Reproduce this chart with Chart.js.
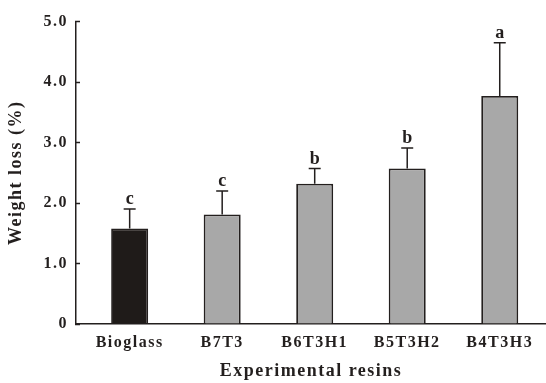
<!DOCTYPE html>
<html>
<head>
<meta charset="utf-8">
<script src="https://cdn.jsdelivr.net/npm/chart.js@4"></script>
<style>
  html, body { margin: 0; padding: 0; background: #fff; }
  canvas { display: block; }
</style>
</head>
<body>
<canvas id="lossChart" width="546" height="383"></canvas>
<script>
const resins = ['Bioglass', 'B7T3', 'B6T3H1', 'B5T3H2', 'B4T3H3'];
const weightLoss = [1.58, 1.81, 2.32, 2.57, 3.77];
const errorUp = [0.32, 0.39, 0.25, 0.34, 0.88];
const groupLetters = ['c', 'c', 'b', 'b', 'a'];
const yTickValues = [0, 1, 2, 3, 4, 5];
const yTickLabels = ['0', '1.0', '2.0', '3.0', '4.0', '5.0'];

const ink = '#231f1e';
const serif = "'Liberation Serif', 'Times New Roman', serif";

// the original figure uses widely spaced bold Times text
const spacedText = {
  id: 'spacedText',
  beforeUpdate(chart) { chart.ctx.letterSpacing = '1.5px'; },
  beforeDraw(chart) { chart.ctx.letterSpacing = '1.5px'; },
};

const errorBars = {
  id: 'errorBars',
  afterDatasetsDraw(chart) {
    const { ctx, scales: { x, y } } = chart;
    ctx.save();
    ctx.letterSpacing = '0px';
    ctx.strokeStyle = ink;
    ctx.fillStyle = ink;
    ctx.lineWidth = 1.5;
    ctx.font = `bold 18px ${serif}`;
    ctx.textAlign = 'center';
    ctx.textBaseline = 'alphabetic';
    weightLoss.forEach((v, i) => {
      const cx = x.getPixelForValue(i);
      const top = y.getPixelForValue(v);
      const end = y.getPixelForValue(v + errorUp[i]);
      ctx.beginPath();
      ctx.moveTo(cx, top);
      ctx.lineTo(cx, end);
      ctx.moveTo(cx - 6, end);
      ctx.lineTo(cx + 6, end);
      ctx.stroke();
      ctx.fillText(groupLetters[i], cx, end - 5);
    });
    ctx.restore();
  },
};

new Chart(document.getElementById('lossChart').getContext('2d'), {
  type: 'bar',
  data: {
    datasets: [{
      data: resins.map((_, i) => ({ x: i, y: weightLoss[i] })),
      backgroundColor: resins.map((_, i) => (i === 0 ? '#1f1b19' : '#a8a8a8')),
      borderColor: ink,
      borderWidth: 1.8,
      barPercentage: 0.4,
      categoryPercentage: 1,
    }],
  },
  options: {
    responsive: false,
    animation: false,
    layout: { padding: { top: 18, right: 0, bottom: 0, left: 0 } },
    plugins: {
      legend: { display: false },
      tooltip: { enabled: false },
    },
    scales: {
      x: {
        type: 'linear',
        offset: false,
        min: -0.58,
        max: 4.5,
        grid: { display: false },
        border: { display: true, color: ink, width: 1.5 },
        afterBuildTicks: (scale) => { scale.ticks = resins.map((_, i) => ({ value: i })); },
        ticks: {
          callback: (v) => resins[v],
          color: ink,
          font: { family: serif, size: 16, weight: 'bold' },
          padding: 1,
          maxRotation: 0,
          autoSkip: false,
        },
        title: {
          display: true,
          text: 'Experimental resins',
          color: ink,
          font: { family: serif, size: 18, weight: 'bold' },
          padding: { top: 0, bottom: 1 },
        },
        afterFit: (scale) => { scale.height = 59; },
      },
      y: {
        min: 0,
        max: 5,
        afterBuildTicks: (scale) => { scale.ticks = yTickValues.map((v) => ({ value: v })); },
        ticks: {
          callback: (v, i) => yTickLabels[i],
          color: ink,
          font: { family: serif, size: 16, weight: 'bold' },
          padding: 12,
        },
        grid: {
          drawOnChartArea: false,
          tickLength: -4,
          tickColor: ink,
          tickWidth: 1.5,
        },
        border: { display: true, color: ink, width: 1.5 },
        title: {
          display: true,
          text: 'Weight loss (%)',
          color: ink,
          font: { family: serif, size: 18, weight: 'bold' },
          padding: { top: 6, bottom: 0 },
        },
        afterFit: (scale) => { scale.width = 76; },
      },
    },
  },
  plugins: [spacedText, errorBars],
});
</script>
</body>
</html>
